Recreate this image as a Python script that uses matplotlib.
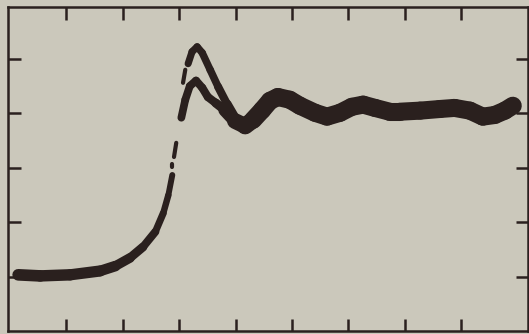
import numpy as np
import matplotlib
matplotlib.use("Agg")
import matplotlib.pyplot as plt
from matplotlib.collections import LineCollection

# absorption edge trace (x in tick units, y in tick units)
edge_x = [0.15, 0.54, 1.07, 1.60, 1.87, 2.13, 2.36, 2.58, 2.72, 2.81, 2.88]
edge_y = [0.04, 0.02, 0.04, 0.11, 0.20, 0.35, 0.55, 0.83, 1.17, 1.50, 1.87]

# broken bits of the steep part
gap_x = [(2.88, 2.88), (2.95, 2.91), (3.11, 3.07)]
gap_y = [(2.07, 2.02), (2.46, 2.20), (3.80, 3.56)]

# lower branch and the oscillations after the edge
low_x = [3.04, 3.11, 3.19, 3.30, 3.41, 3.51, 3.65, 3.81, 3.99, 4.17, 4.31,
         4.47, 4.61, 4.75, 4.96, 5.14, 5.41, 5.62, 5.85, 6.06, 6.26, 6.47,
         6.73, 6.91, 7.27, 7.62, 7.88, 8.15, 8.38, 8.59, 8.77, 8.91]
low_y = [2.92, 3.25, 3.50, 3.60, 3.47, 3.30, 3.19, 3.06, 2.86, 2.77, 2.88,
         3.06, 3.23, 3.30, 3.25, 3.14, 3.01, 2.94, 3.01, 3.12, 3.16, 3.10,
         3.03, 3.03, 3.05, 3.08, 3.10, 3.05, 2.94, 2.97, 3.05, 3.14]

# upper branch (white line peak)
up_x = [3.16, 3.23, 3.32, 3.41, 3.55, 3.69, 3.85, 3.99]
up_y = [3.91, 4.13, 4.22, 4.11, 3.80, 3.49, 3.17, 2.92]

paper = "#cbc8bb"
ink = "#2a201e"


def tube(ax, x, y, wx, wv):
    x = np.asarray(x)
    y = np.asarray(y)
    pts = np.column_stack([x, y]).reshape(-1, 1, 2)
    segs = np.concatenate([pts[:-1], pts[1:]], axis=1)
    mid = (x[:-1] + x[1:]) / 2
    lw = np.interp(mid, wx, wv)
    lc = LineCollection(segs, linewidths=lw, colors=ink,
                        capstyle="round", joinstyle="round", zorder=3)
    ax.add_collection(lc)


fig = plt.figure(figsize=(5.29, 3.34), dpi=100, facecolor=paper)
ax = fig.add_axes([8 / 529, 3 / 334, 520 / 529, 324 / 334])
ax.set_facecolor(paper)

tube(ax, edge_x, edge_y, [0, 1.6, 2.4, 2.8, 2.9], [8.5, 8.0, 6.0, 4.5, 4.0])
for gx, gy in zip(gap_x, gap_y):
    ax.plot(gx, gy, color=ink, lw=3, solid_capstyle="round", zorder=3)
tube(ax, low_x, low_y, [3.0, 3.7, 4.0, 4.4, 9.0], [5.5, 6.0, 11.0, 13.0, 13.0])
tube(ax, up_x, up_y, [3.1, 3.7, 4.0], [5.0, 5.5, 7.0])

ax.set_xlim(-0.03, 9.18)
ax.set_ylim(-0.99, 4.95)
ax.set_xticks(range(1, 9))
ax.set_yticks(range(0, 5))
ax.tick_params(direction="in", length=9, width=1.8, color=ink,
               top=True, right=True, labelbottom=False, labelleft=False)
for s in ax.spines.values():
    s.set_color(ink)
    s.set_linewidth(1.8)

fig.savefig("out.png", dpi=100, facecolor=paper)
